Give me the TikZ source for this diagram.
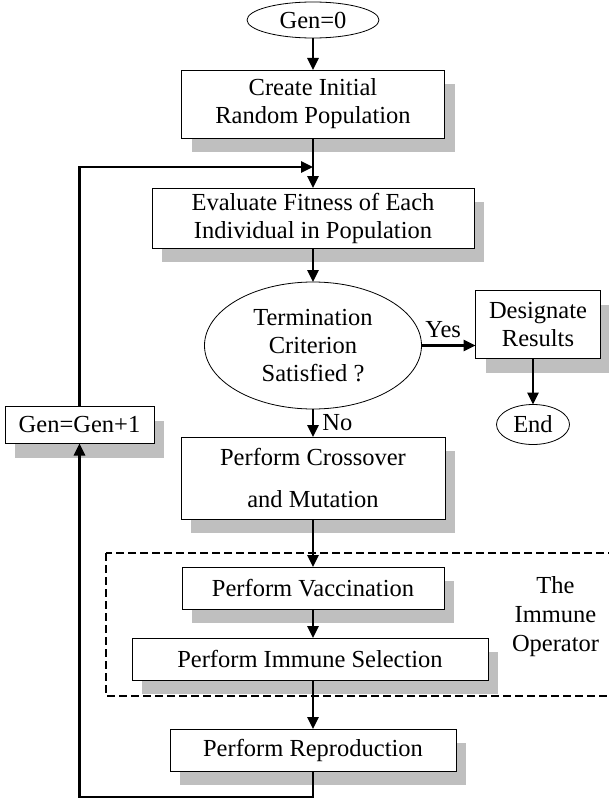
\documentclass[tikz,border=0pt]{standalone}
\usepackage{fontspec}
\setmainfont{Liberation Serif}
\usetikzlibrary{shapes,arrows.meta,positioning,calc,shadows}

\begin{document}
\begin{tikzpicture}[-,>={Triangle[length=12pt,width=11pt]}, line width=0.8pt,
	font=\fontsize{24.5pt}{28pt}\selectfont, every node/.style={outer sep=0pt},
	procbox/.style={rectangle, draw, fill=white, align=center, inner sep=0pt,
		drop shadow={shadow xshift=10pt, shadow yshift=-14pt, fill=black!25, opacity=1}},
	term/.style={ellipse, draw, fill=white, align=center, inner sep=0pt},
	flow/.style={->, line width=2.6pt},
	dashbox/.style={dash pattern=on 8pt off 4pt, line width=2pt}]
	\useasboundingbox (0pt,0pt) rectangle (608pt,-800pt);

	\node [term, minimum width=132pt, minimum height=36pt] (gen0) at (313pt,-20pt) {Gen=0};
	\node [procbox, minimum width=263pt, minimum height=68pt] (create) [below=32pt of gen0] {Create Initial\\Random Population};
	\node [procbox, minimum width=322pt, minimum height=60pt] (evaluate) [below=50pt of create] {Evaluate Fitness of Each\\Individual in Population};
	\node [term, minimum width=217pt, minimum height=127pt] (test) [below=34pt of evaluate] {Termination\\Criterion\\Satisfied ?};
	\node [procbox, minimum width=264pt, minimum height=82pt] (crossover) [below=28pt of test] {Perform Crossover\\[14pt]and Mutation};
	\node [procbox, minimum width=262pt, minimum height=42pt] (vaccination) [below=48pt of crossover] {Perform Vaccination};
	\node [procbox, minimum width=356pt, minimum height=42pt] (selection) [below=29pt of vaccination, xshift=-3pt] {Perform Immune Selection};
	\node [procbox, minimum width=286pt, minimum height=42pt] (reproduction) [below=49pt of selection, xshift=3pt] {Perform Reproduction};

	\node [procbox, minimum width=125pt, minimum height=68pt] (designate) [right=54pt of test, yshift=21pt] {Designate\\Results};
	\node [term, minimum width=73pt, minimum height=40pt] (endnode) [below=46pt of designate, xshift=-5pt] {End};
	\node [procbox, minimum width=149pt, minimum height=37pt] (gen1) [left=50.5pt of test, yshift=-79.5pt] {Gen=Gen+1};

	% the immune operator
	\coordinate (opnw) at ($(selection.west |- vaccination.north)+(-26pt,14pt)$);
	\coordinate (opse) at ($(selection.south east)+(132pt,-16pt)$);
	\draw [dashbox] (opnw) rectangle (opse);
	\node [align=center, inner sep=0pt, font=\fontsize{24.5pt}{29pt}\selectfont] (oplabel) [right=24pt of selection, yshift=42pt] {The\\Immune\\Operator};

	\coordinate (loopin) at ($(create.south)!0.58!(evaluate.north)$);

	\draw [flow] (gen0) -- (create);
	\draw [flow] (create) -- (evaluate);
	\draw [flow] (evaluate) -- (test);
	\draw [flow] (test) -- node [right, xshift=6pt] {No} (crossover);
	\draw [flow] (crossover) -- (crossover |- vaccination.north);
	\draw [flow] (vaccination) -- (vaccination |- selection.north);
	\draw [flow] (selection.south -| reproduction.north) -- (reproduction);
	\draw [flow] (test.east) -- node [above, pos=0.4, yshift=4pt] {Yes} (test.east -| designate.west);
	\draw [flow] (designate.south -| endnode.north) -- (endnode);

	% loop back
	\draw [flow] (reproduction.south) -- ++(0,-26pt) -| (gen1.south);
	\draw [flow] (gen1.north) |- (loopin);
\end{tikzpicture}
\end{document}
